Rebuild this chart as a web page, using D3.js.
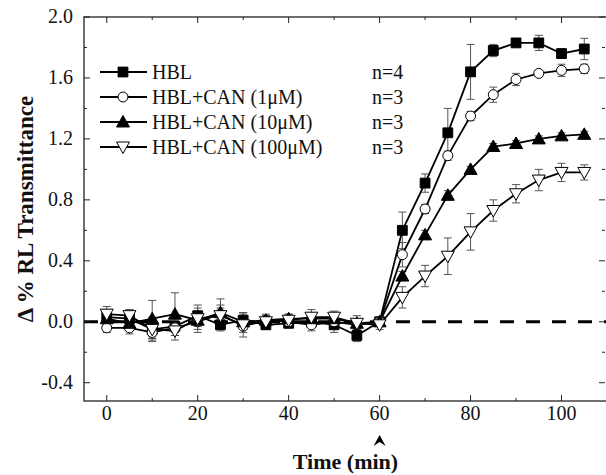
<!DOCTYPE html>
<html lang="en">
  <head>
    <meta charset="UTF-8" />
    <title>RL Transmittance vs Time</title>
    <script src="https://d3js.org/d3.v7.min.js"></script>
    <style>
      body {
        margin: 0;
        padding: 0;
        background: #ffffff;
      }
      svg text {
        font-family: "Liberation Serif", "Times New Roman", serif;
        fill: #111;
      }
    </style>
  </head>
  <body>
    <svg id="chart" width="606" height="475"></svg>

    <script>
      const times = [0, 5, 10, 15, 20, 25, 30, 35, 40, 45, 50, 55, 60, 65, 70, 75, 80, 85, 90, 95, 100, 105];

      const hbl = [0.03, 0.02, -0.05, -0.03, 0.04, -0.02, 0.01, -0.02, -0.01, 0.0, -0.02, -0.09, 0.0,
        0.60, 0.91, 1.24, 1.64, 1.78, 1.83, 1.83, 1.76, 1.79];
      const hblErr = [0.05, 0.06, 0.08, 0.04, 0.07, 0.04, 0.05, 0.03, 0.03, 0.03, 0.05, 0.04, 0.03,
        0.12, 0.06, 0.16, 0.18, 0.04, 0.02, 0.05, 0.03, 0.07];

      const can1 = [-0.04, -0.04, -0.07, -0.04, 0.0, 0.05, -0.03, 0.01, 0.0, -0.02, 0.0, -0.02, 0.0,
        0.44, 0.74, 1.09, 1.35, 1.49, 1.59, 1.63, 1.65, 1.66];
      const can1Err = [0.03, 0.04, 0.05, 0.05, 0.05, 0.04, 0.04, 0.03, 0.03, 0.04, 0.03, 0.03, 0.03,
        0.08, 0.03, 0.03, 0.03, 0.05, 0.04, 0.02, 0.04, 0.03];

      const can10 = [0.02, -0.01, 0.02, 0.05, 0.01, 0.06, 0.0, 0.01, 0.02, 0.02, 0.02, -0.01, 0.0,
        0.30, 0.57, 0.83, 1.00, 1.15, 1.17, 1.20, 1.22, 1.23];
      const can10Err = [0.04, 0.05, 0.12, 0.14, 0.08, 0.09, 0.05, 0.04, 0.03, 0.04, 0.03, 0.03, 0.02,
        0.03, 0.03, 0.03, 0.02, 0.02, 0.02, 0.02, 0.02, 0.02];

      const can100 = [0.05, 0.04, -0.05, -0.06, 0.02, 0.04, -0.02, 0.0, 0.01, 0.03, 0.03, -0.01, -0.02,
        0.16, 0.30, 0.43, 0.59, 0.73, 0.84, 0.93, 0.98, 0.98];
      const can100Err = [0.05, 0.04, 0.06, 0.06, 0.04, 0.07, 0.08, 0.04, 0.04, 0.05, 0.04, 0.05, 0.03,
        0.07, 0.07, 0.12, 0.12, 0.07, 0.06, 0.07, 0.06, 0.05];

      const seriesNames = ["HBL", "HBL+CAN (1\u03bcM)", "HBL+CAN (10\u03bcM)", "HBL+CAN (100\u03bcM)"];
      const seriesN = ["n=4", "n=3", "n=3", "n=3"];
      const seriesMarkers = ["square", "circle", "triangle", "triangleDown"];

      const xTicks = [0, 20, 40, 60, 80, 100];
      const yTicks = [-0.4, 0.0, 0.4, 0.8, 1.2, 1.6, 2.0];

      const series = [
        {values: hbl, errs: hblErr},
        {values: can1, errs: can1Err},
        {values: can10, errs: can10Err},
        {values: can100, errs: can100Err},
      ].map((s, i) => ({
        name: seriesNames[i],
        n: seriesN[i],
        marker: seriesMarkers[i],
        points: times.map((t, j) => ({t: t, v: s.values[j], e: s.errs[j]})),
      }));

      const svg = d3.select("#chart");
      const plotL = 84, plotR = 607, plotT = 17, plotB = 401;

      const x = d3.scaleLinear().domain([-5, 110]).range([plotL, plotR]);
      const y = d3.scaleLinear().domain([-0.52, 2.0]).range([plotB, plotT]);

      // marker paths
      function markerPath(type) {
        if (type === "square") return d3.symbol(d3.symbolSquare, 96)();
        if (type === "circle") return d3.symbol(d3.symbolCircle, 78)();
        if (type === "triangle") return "M0,-6.5L6.5,5L-6.5,5Z";
        return "M0,6.5L6.5,-5L-6.5,-5Z";
      }
      const markerFill = (type) => (type === "square" || type === "triangle" ? "#000" : "#fff");

      // frame
      svg.append("rect")
        .attr("x", plotL).attr("y", plotT)
        .attr("width", plotR - plotL).attr("height", plotB - plotT)
        .attr("fill", "none").attr("stroke", "#222").attr("stroke-width", 1.3);

      // zero dashed line
      svg.append("line")
        .attr("x1", plotL).attr("x2", plotR)
        .attr("y1", y(0)).attr("y2", y(0))
        .attr("stroke", "#000").attr("stroke-width", 3)
        .attr("stroke-dasharray", "14,12");

      // ticks (inward), major + minor
      const xMinor = d3.range(0, 110, 10);
      const yMinor = d3.range(-0.4, 2.01, 0.2);
      const tickG = svg.append("g").attr("stroke", "#222").attr("stroke-width", 1);
      xMinor.forEach((t) => {
        const len = t % 20 === 0 ? 6 : 3;
        tickG.append("line").attr("x1", x(t)).attr("x2", x(t)).attr("y1", plotB).attr("y2", plotB - len);
        tickG.append("line").attr("x1", x(t)).attr("x2", x(t)).attr("y1", plotT).attr("y2", plotT + len);
      });
      yMinor.forEach((v) => {
        const major = Math.abs(Math.round(v * 10) % 4) === 0;
        const len = major ? 6 : 3;
        tickG.append("line").attr("x1", plotL).attr("x2", plotL + len).attr("y1", y(v)).attr("y2", y(v));
        tickG.append("line").attr("x1", plotR - 2).attr("x2", plotR - 2 - len).attr("y1", y(v)).attr("y2", y(v));
      });

      // tick labels
      svg.append("g").selectAll("text")
        .data(xTicks).join("text")
        .attr("x", (d) => x(d)).attr("y", plotB + 19)
        .attr("text-anchor", "middle").attr("font-size", 20)
        .text((d) => d);
      svg.append("g").selectAll("text")
        .data(yTicks).join("text")
        .attr("x", plotL - 11).attr("y", (d) => y(d) + 6)
        .attr("text-anchor", "end").attr("font-size", 20)
        .text((d) => d.toFixed(1));

      // arrow at t=60
      svg.append("path")
        .attr("transform", `translate(${x(60)},${plotB + 34})`)
        .attr("d", "M0,0L6,11L0,7L-6,11Z")
        .attr("fill", "#000");

      // axis titles
      svg.append("text")
        .attr("x", (plotL + plotR) / 2).attr("y", 469)
        .attr("text-anchor", "middle").attr("font-size", 22).attr("font-weight", "bold")
        .text("Time (min)");
      svg.append("text")
        .attr("transform", `translate(33,${(plotT + plotB) / 2}) rotate(-90)`)
        .attr("text-anchor", "middle").attr("font-size", 23).attr("font-weight", "bold")
        .text("\u0394 % RL Transmittance");

      // error bars
      const errG = svg.append("g").attr("stroke", "#555").attr("stroke-width", 1);
      series.forEach((s) => {
        s.points.forEach((p) => {
          const cx = x(p.t);
          errG.append("line").attr("x1", cx).attr("x2", cx).attr("y1", y(p.v - p.e)).attr("y2", y(p.v + p.e));
          errG.append("line").attr("x1", cx - 4).attr("x2", cx + 4).attr("y1", y(p.v - p.e)).attr("y2", y(p.v - p.e));
          errG.append("line").attr("x1", cx - 4).attr("x2", cx + 4).attr("y1", y(p.v + p.e)).attr("y2", y(p.v + p.e));
        });
      });

      // lines
      const line = d3.line().x((d) => x(d.t)).y((d) => y(d.v));
      svg.append("g").selectAll("path")
        .data(series).join("path")
        .attr("d", (d) => line(d.points))
        .attr("fill", "none").attr("stroke", "#000").attr("stroke-width", 1.8);

      // markers
      series.forEach((s) => {
        svg.append("g").selectAll("path")
          .data(s.points).join("path")
          .attr("transform", (d) => `translate(${x(d.t)},${y(d.v)})`)
          .attr("d", markerPath(s.marker))
          .attr("fill", markerFill(s.marker))
          .attr("stroke", "#000").attr("stroke-width", 1);
      });

      // legend
      const legend = svg.append("g").selectAll("g")
        .data(series).join("g")
        .attr("transform", (d, i) => `translate(0,${72 + i * 25})`);
      legend.append("line")
        .attr("x1", 100).attr("x2", 147).attr("y1", 0).attr("y2", 0)
        .attr("stroke", "#000").attr("stroke-width", 1.8);
      legend.append("path")
        .attr("transform", "translate(123,0)")
        .attr("d", (d) => markerPath(d.marker))
        .attr("fill", (d) => markerFill(d.marker))
        .attr("stroke", "#000").attr("stroke-width", 1);
      legend.append("text")
        .attr("x", 152).attr("y", 7).attr("font-size", 20)
        .text((d) => d.name);
      legend.append("text")
        .attr("x", 372).attr("y", 7).attr("font-size", 20)
        .text((d) => d.n);
    </script>
  </body>
</html>
